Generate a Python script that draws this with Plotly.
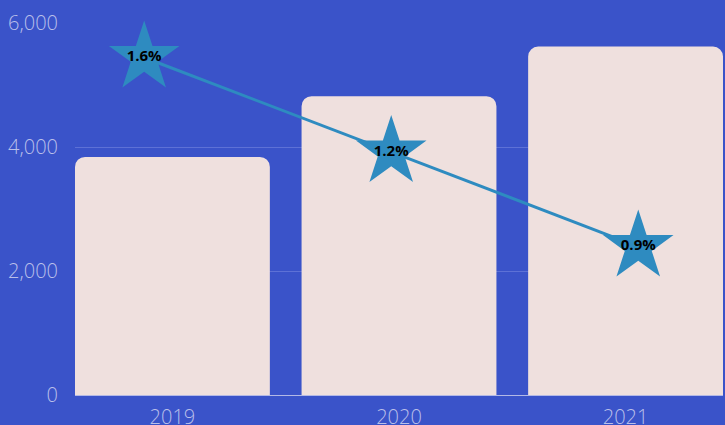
import plotly.graph_objects as go

years = ["2019", "2020", "2021"]
bar_values = [3840, 4820, 5620]
rates = [1.6, 1.2, 0.9]
rate_labels = [f"{r:.1f}%" for r in rates]
y_ticks = [0, 2000, 4000, 6000]

BG = "#3a53c9"
BAR = "#efe0de"
STAR = "#2e8bc0"
TICK = "#b9bfe9"

fig = go.Figure()
fig.add_trace(go.Bar(
    x=years, y=bar_values, marker=dict(color=BAR, line=dict(width=0)),
    xaxis="x", yaxis="y", hoverinfo="skip",
))
fig.add_trace(go.Scatter(
    x=years, y=rates, mode="lines+markers+text",
    text=rate_labels, textposition="middle center",
    textfont=dict(family="Open Sans", size=15, color="#000000", weight="bold"),
    line=dict(color=STAR, width=3),
    marker=dict(symbol="star", size=53, color=STAR, line=dict(width=0)),
    xaxis="x2", yaxis="y2", cliponaxis=False,
))

fig.update_layout(
    width=725, height=425,
    margin=dict(l=75, r=2, t=23, b=30),
    paper_bgcolor=BG, plot_bgcolor=BG,
    showlegend=False,
    bargap=0.14,
    barcornerradius=10,
    font=dict(family="Open Sans", color=TICK),
    xaxis=dict(
        type="category", range=[-0.43, 2.43],
        showgrid=False, zeroline=False, automargin=False,
        showline=True, linecolor="#b3b9e6", linewidth=1,
        tickfont=dict(size=20, color=TICK, weight=300),
        ticks="", ticklabelstandoff=4,
    ),
    xaxis2=dict(
        type="category", range=[-0.28, 2.343],
        overlaying="x", visible=False,
    ),
    yaxis=dict(
        range=[0, 6000], tickvals=y_ticks, tickformat=",",
        showgrid=True, gridcolor="#5d71d6", gridwidth=1,
        zeroline=False, automargin=False,
        tickfont=dict(size=20, color=TICK, weight=300),
        ticks="", ticklabelstandoff=16,
    ),
    yaxis2=dict(
        type="log", overlaying="y", visible=False,
        range=[-0.242, 0.2497],
    ),
)

fig.write_html("out.html")
